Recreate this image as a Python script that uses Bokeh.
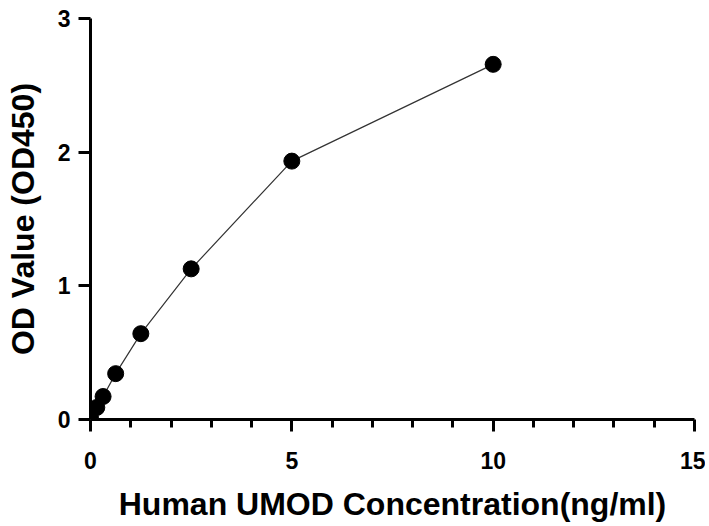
from bokeh.plotting import figure
from bokeh.models import Range1d, FixedTicker
from bokeh.embed import file_html
from bokeh.resources import INLINE

conc = [0, 0.156, 0.3125, 0.625, 1.25, 2.5, 5, 10]
od = [0.015, 0.09, 0.172, 0.343, 0.642, 1.127, 1.933, 2.657]

x_major = [0, 5, 10, 15]
x_minor = [1, 2, 3, 4, 6, 7, 8, 9, 11, 12, 13, 14]
y_major = [0, 1, 2, 3]

p = figure(width=705, height=524, output_backend="svg", toolbar_location=None,
           x_range=Range1d(0, 15), y_range=Range1d(0, 3),
           min_border_left=90, min_border_right=11, min_border_top=18, min_border_bottom=104)
p.outline_line_color = None
p.xgrid.visible = False
p.ygrid.visible = False
p.background_fill_color = "white"

p.line(conc, od, line_color="#333333", line_width=1.2)
p.scatter(conc, od, size=16, color="black")

font = "Liberation Sans"
for ax in (p.xaxis[0], p.yaxis[0]):
    ax.axis_line_width = 3
    ax.major_tick_line_width = 3
    ax.minor_tick_line_width = 3
    ax.major_tick_out = 12
    ax.major_tick_in = 0
    ax.minor_tick_out = 8
    ax.minor_tick_in = 0
    ax.major_label_text_font = font
    ax.major_label_text_font_style = "bold"
    ax.major_label_text_font_size = "23px"
    ax.major_label_text_color = "black"
    ax.axis_label_text_font = font
    ax.axis_label_text_font_style = "bold"
    ax.axis_label_text_font_size = "32px"
    ax.axis_label_text_color = "black"

p.xaxis.ticker = FixedTicker(ticks=x_major, minor_ticks=x_minor)
p.yaxis.ticker = FixedTicker(ticks=y_major, minor_ticks=[])
p.xaxis.axis_label = "Human UMOD Concentration(ng/ml)"
p.yaxis.axis_label = "OD Value (OD450)"
p.xaxis.major_label_standoff = 20
p.yaxis.major_label_standoff = 8
p.xaxis.axis_label_standoff = 14
p.yaxis.axis_label_standoff = 14

open("out.html", "w").write(file_html(p, INLINE))
